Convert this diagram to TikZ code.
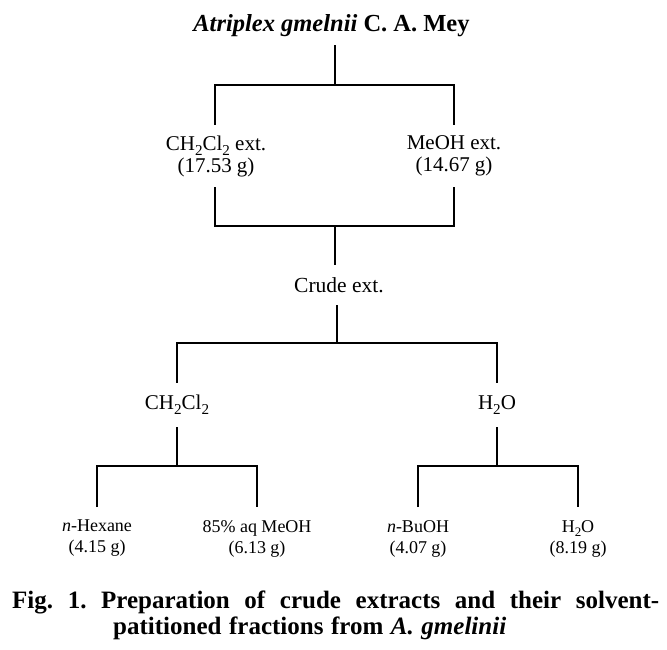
\documentclass[tikz,border=0pt]{standalone}
\usepackage{fontspec}
\setmainfont{Liberation Serif}
\usepackage{graphicx}
\newcommand\subtwo{\raisebox{-0.24em}{\scalebox{0.72}{2}}}
\begin{document}
\frenchspacing
\begin{tikzpicture}[x=1pt,y=-1pt,
  conn/.style={line width=1.7pt, line join=miter},
  midlab/.style={inner sep=0pt, align=center, font=\fontsize{21}{22}\selectfont},
  botlab/.style={anchor=north, inner xsep=0pt, inner ysep=13pt, align=center, font=\fontsize{18}{21}\selectfont},
  captext/.style={anchor=base west, inner sep=0pt, font=\fontsize{25}{28}\selectfont\bfseries}]
\path[use as bounding box, fill=white] (0,0) rectangle (667,650);

% nodes
\node[anchor=base, inner xsep=0pt, inner ysep=7.7pt, font=\fontsize{24.5}{28}\selectfont\bfseries]
  (title) at (331.5,32) {\textit{Atriplex gmelnii} C. A. Mey};
\node[midlab, minimum height=62pt] (a) at (216,156) {CH\subtwo Cl\subtwo\ ext.\\(17.53 g)};
\node[midlab, minimum height=62pt] (b) at (454,156) {MeOH ext.\\(14.67 g)};
\node[midlab, minimum height=40pt, font=\fontsize{21.5}{21}\selectfont] (crude) at (339,285) {Crude ext.};
\node[midlab, minimum height=44pt] (c) at (177,405) {CH\subtwo Cl\subtwo};
\node[midlab, minimum height=44pt] (d) at (497,405) {H\subtwo O};
\node[botlab] (e) at (97,507) {\textit{n}-Hexane\\(4.15 g)};
\node[botlab] (f) at (257,507) {85\% aq MeOH\\(6.13 g)};
\node[botlab] (g) at (418,507) {\textit{n}-BuOH\\(4.07 g)};
\node[botlab] (h) at (578,507) {H\subtwo O\\(8.19 g)};

% junctions
\coordinate (j0) at (335,85);
\coordinate (j1) at (335,226);
\coordinate (j2) at (337,343);
\coordinate (j3) at (177,466);
\coordinate (j4) at (497,466);

% connectors
\draw[conn] (title.south -| j0) -- (j0);
\draw[conn] (a.north -| 215,0) |- (j0) -| (b.north);
\draw[conn] (a.south -| 215,0) |- (j1) -| (b.south);
\draw[conn] (j1) -- (j1 |- crude.north);
\draw[conn] (crude.south -| j2) -- (j2);
\draw[conn] (c.north) |- (j2) -| (d.north);
\draw[conn] (c.south) -- (j3);
\draw[conn] (e.north) |- (j3) -| (f.north);
\draw[conn] (d.south) -- (j4);
\draw[conn] (g.north) |- (j4) -| (h.north);

% caption
\node[captext] (cap1) at (12,608)
  {\makebox[647pt][s]{Fig. 1. Preparation of crude extracts and their solvent-}};
\node[captext] (cap2) at (113,634)
  {\makebox[393pt][s]{patitioned fractions from \textit{A. gmelinii}}};
\end{tikzpicture}
\end{document}
